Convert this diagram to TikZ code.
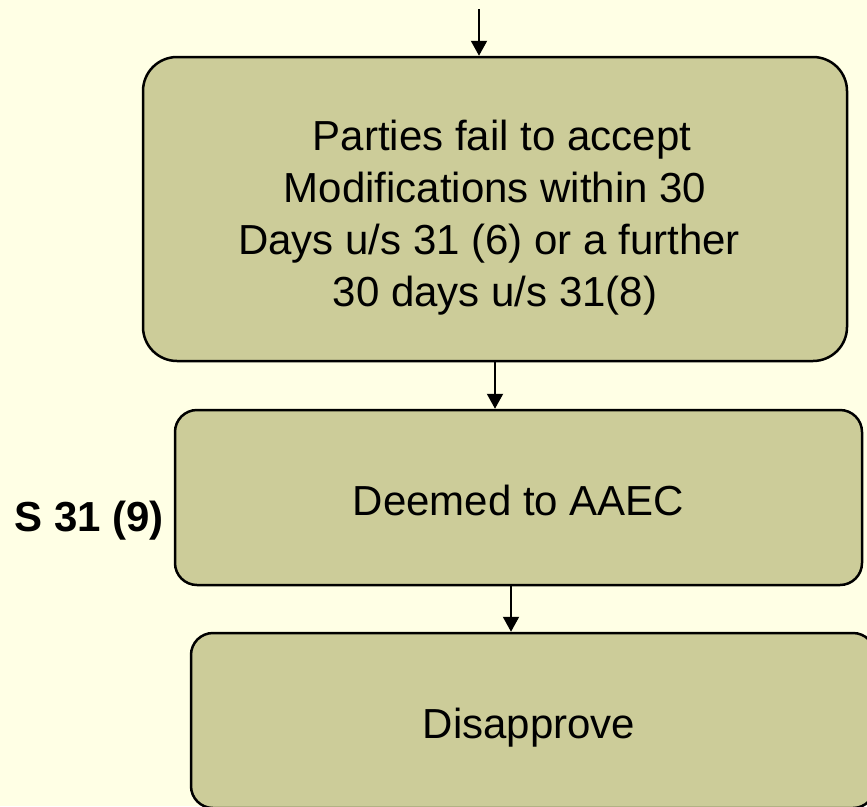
\documentclass[tikz,border=0pt]{standalone}
\usepackage{fontspec}
\setmainfont{Liberation Sans}
\usetikzlibrary{arrows.meta}
\definecolor{pagebg}{HTML}{FFFFE5}
\definecolor{boxfill}{HTML}{CCCC99}
% lower a text block without changing the space it occupies
\newcommand{\lowerby}[2]{\raisebox{-#1}[\height][\depth]{#2}}
\begin{document}
\begin{tikzpicture}[x=1pt,y=-1pt,
  flowbox/.style={draw=black, line width=2.5pt, fill=boxfill, align=center,
    font=\fontsize{42}{52}\selectfont, inner sep=0pt},
  flowarrow/.style={draw=black, line width=2pt,
    -{Triangle[length=15pt,width=16pt]}}]
  % page
  \fill[pagebg] (0,0) rectangle (867,806);
  \useasboundingbox (0,0) rectangle (867,806);
  % boxes
  \node[flowbox, rounded corners=34pt, minimum width=704pt, minimum height=304pt]
    (modify) at (495,209) {\lowerby{9pt}{\begin{tabular}{@{}c@{}}
      \hspace*{14pt}Parties fail to accept\\
      Modifications within 30\\
      Days u/s 31 (6) or a further\hspace*{12pt}\\
      30 days u/s 31(8)\end{tabular}}};
  \node[flowbox, rounded corners=22pt, minimum width=687pt, minimum height=175pt]
    (deemed) at (518.5,497.5) {\lowerby{3pt}{Deemed to AAEC}};
  \node[flowbox, rounded corners=22pt, minimum width=684pt, minimum height=175pt]
    (disapprove) at (533,720.5) {\lowerby{7pt}{\hspace*{-8pt}Disapprove}};
  % side label
  \node[font=\fontsize{42}{50}\bfseries\selectfont, anchor=east, inner sep=0pt]
    (section) at (164,521) {S 31 (9)};
  % connectors
  \coordinate (entry) at (479,9);
  \draw[flowarrow] (entry) -- (entry |- modify.north);
  \draw[flowarrow] (modify.south) -- (modify.south |- deemed.north);
  \draw[flowarrow] ([xshift=-7.5pt]deemed.south) -- ([xshift=-7.5pt]deemed.south |- disapprove.north);
\end{tikzpicture}
\end{document}
